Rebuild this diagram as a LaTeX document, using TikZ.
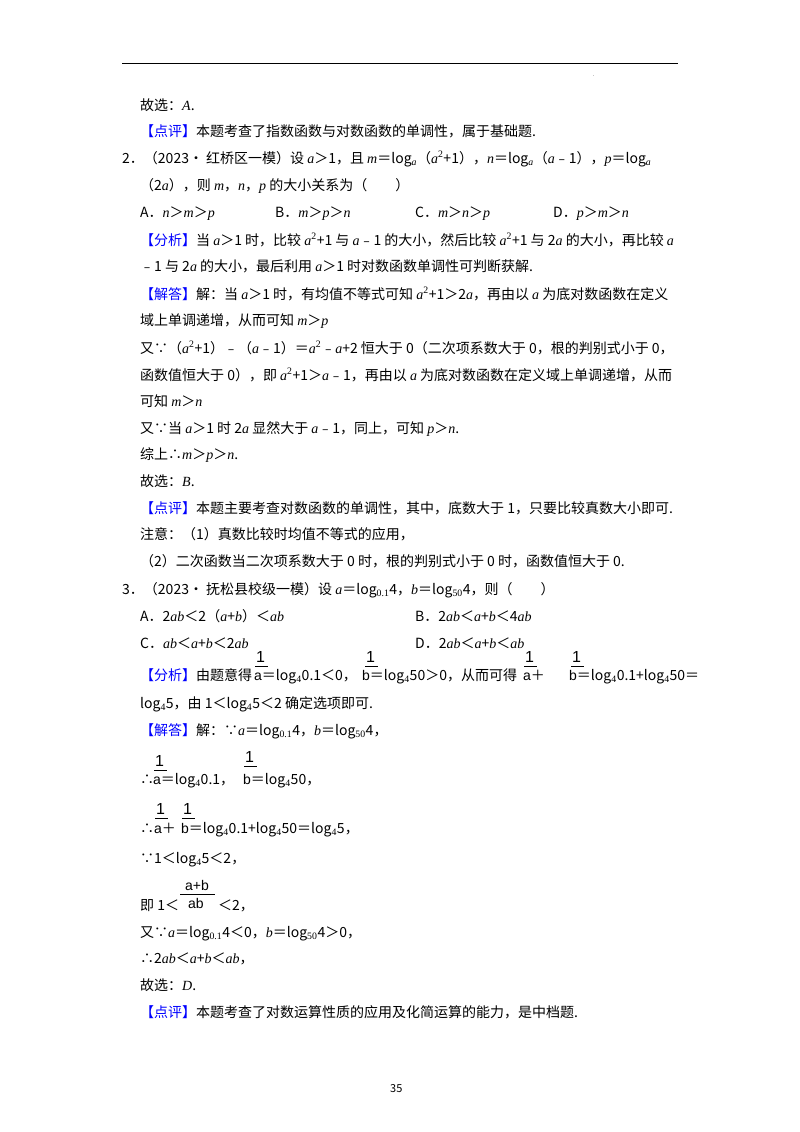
\documentclass[tikz,border=0pt]{standalone}
\usepackage{fontspec}
\setmainfont{Noto Sans CJK SC}
\newfontfamily\lser{Liberation Serif}
\newfontfamily\lsans{Liberation Sans}
\newcommand\vv[1]{{\lser\itshape #1}}
\newcommand\rr[1]{{\lser #1}}
\newcommand\kw[1]{\textcolor{blue}{【#1】}}
\newcommand\sub[1]{\textsubscript{\rr{#1}}}
\newcommand\sq{\textsuperscript{\rr{2}}}
\newcommand\Ln[3]{\node[tx] at (#1,-#2) {#3};}
\newcommand\Fr[3]{\node[tx,font=\lsans\fontsize{16}{16}\selectfont] at (#1,-#2) {#3};
  \draw[line width=0.6] (#1-1,-#2-4) -- (#1+12,-#2-4);}
\begin{document}
\begin{tikzpicture}[x=1pt,y=1pt,tx/.style={anchor=base west,inner sep=0,font=\fontsize{14}{16}\selectfont}]
\useasboundingbox (0,0) rectangle (800,-1132);
\draw[line width=0.8] (122,-63) -- (678,-63);
\node[tx,font=\fontsize{5}{5}\selectfont] at (593,-77) {.};
\Ln{140}{110}{故选：\vv{A}.}
\Ln{140}{136}{\kw{点评}本题考查了指数函数与对数函数的单调性，属于基础题.}
\Ln{122}{163}{2．（2023• 红桥区一模）设 \vv{a}＞1，且 \vv{m}＝log\sub{\vv{a}}（\vv{a}\sq+1），\vv{n}＝log\sub{\vv{a}}（\vv{a}﹣1），\vv{p}＝log\sub{\vv{a}}}
\Ln{140}{190}{（2\vv{a}），则 \vv{m}，\vv{n}，\vv{p} 的大小关系为（　　）}
\Ln{140}{217}{A．\vv{n}＞\vv{m}＞\vv{p}}
\Ln{275}{217}{B．\vv{m}＞\vv{p}＞\vv{n}}
\Ln{415}{217}{C．\vv{m}＞\vv{n}＞\vv{p}}
\Ln{553}{217}{D．\vv{p}＞\vv{m}＞\vv{n}}
\Ln{140}{245}{\kw{分析}当 \vv{a}＞1 时，比较 \vv{a}\sq+1 与 \vv{a}﹣1 的大小，然后比较 \vv{a}\sq+1 与 2\vv{a} 的大小，再比较 \vv{a}}
\Ln{140}{271}{﹣1 与 2\vv{a} 的大小，最后利用 \vv{a}＞1 时对数函数单调性可判断获解.}
\Ln{140}{299}{\kw{解答}解：当 \vv{a}＞1 时，有均值不等式可知 \vv{a}\sq+1＞2\vv{a}，再由以 \vv{a} 为底对数函数在定义}
\Ln{140}{325}{域上单调递增，从而可知 \vv{m}＞\vv{p}}
\Ln{140}{353}{又∵（\vv{a}\sq+1）﹣（\vv{a}﹣1）＝\vv{a}\sq﹣\vv{a}+2 恒大于 0（二次项系数大于 0，根的判别式小于 0，}
\Ln{140}{380}{函数值恒大于 0），即 \vv{a}\sq+1＞\vv{a}﹣1，再由以 \vv{a} 为底对数函数在定义域上单调递增，从而}
\Ln{140}{406}{可知 \vv{m}＞\vv{n}}
\Ln{140}{433}{又∵当 \vv{a}＞1 时 2\vv{a} 显然大于 \vv{a}﹣1，同上，可知 \vv{p}＞\vv{n}.}
\Ln{140}{459}{综上∴\vv{m}＞\vv{p}＞\vv{n}.}
\Ln{140}{486}{故选：\vv{B}.}
\Ln{140}{513}{\kw{点评}本题主要考查对数函数的单调性，其中，底数大于 1，只要比较真数大小即可.}
\Ln{140}{539}{注意：（1）真数比较时均值不等式的应用，}
\Ln{140}{566}{（2）二次函数当二次项系数大于 0 时，根的判别式小于 0 时，函数值恒大于 0.}
\Ln{122}{594}{3．（2023• 抚松县校级一模）设 \vv{a}＝log\sub{0.1}4，\vv{b}＝log\sub{50}4，则（　　）}
\Ln{140}{621}{A．2\vv{ab}＜2（\vv{a}+\vv{b}）＜\vv{ab}}
\Ln{415}{621}{B．2\vv{ab}＜\vv{a}+\vv{b}＜4\vv{ab}}
\Ln{140}{648}{C．\vv{ab}＜\vv{a}+\vv{b}＜2\vv{ab}}
\Ln{415}{648}{D．2\vv{ab}＜\vv{a}+\vv{b}＜\vv{ab}}
\Fr{256}{662}{1}\Fr{366}{662}{1}\Fr{525}{662}{1}\Fr{572}{662}{1}
\Ln{140}{680}{\kw{分析}由题意得}
\Ln{254}{680}{{\lsans a}＝log\sub{4}0.1＜0，}
\Ln{362}{680}{{\lsans b}＝log\sub{4}50＞0，从而可得}
\Ln{523}{680}{{\lsans a}＋}
\Ln{569}{680}{{\lsans b}＝log\sub{4}0.1+log\sub{4}50＝}
\Ln{140}{708}{log\sub{4}5，由 1＜log\sub{4}5＜2 确定选项即可.}
\Ln{140}{735}{\kw{解答}解：∵\vv{a}＝log\sub{0.1}4，\vv{b}＝log\sub{50}4，}
\Fr{155}{766}{1}\Fr{245}{762}{1}
\Ln{140}{784}{∴}
\Ln{153}{784}{{\lsans a}＝log\sub{4}0.1，}
\Ln{243}{784}{{\lsans b}＝log\sub{4}50，}
\Fr{156}{814}{1}\Fr{183}{814}{1}
\Ln{140}{833}{∴}
\Ln{154}{833}{{\lsans a}＋}
\Ln{181}{833}{{\lsans b}＝log\sub{4}0.1+log\sub{4}50＝log\sub{4}5，}
\Ln{140}{863}{∵1＜log\sub{4}5＜2，}
\node[tx,font=\lsans\fontsize{14}{14}\selectfont] (ab) at (185,-890) {a+b};
\draw[line width=0.6] (180,-894) -- (215,-894);
\Ln{140}{910}{即 1＜}
\node[tx,font=\lsans\fontsize{14}{14}\selectfont] (abd) at (188,-908) {ab};
\Ln{218}{910}{＜2，}
\Ln{140}{937}{又∵\vv{a}＝log\sub{0.1}4＜0，\vv{b}＝log\sub{50}4＞0，}
\Ln{140}{963}{∴2\vv{ab}＜\vv{a}+\vv{b}＜\vv{ab}，}
\Ln{140}{990}{故选：\vv{D}.}
\Ln{140}{1017}{\kw{点评}本题考查了对数运算性质的应用及化简运算的能力，是中档题.}
\node[tx,font=\fontsize{11}{11}\selectfont] at (390,-1092) {35};
\end{tikzpicture}
\end{document}
